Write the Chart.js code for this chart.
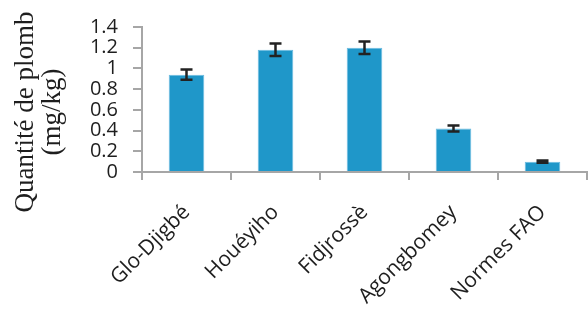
<!DOCTYPE html>
<html>
<head>
<meta charset="utf-8">
<script src="https://cdn.jsdelivr.net/npm/chart.js@4/dist/chart.umd.min.js"></script>
<style>
  html, body { margin: 0; padding: 0; background: #ffffff; }
  #wrap { width: 588px; height: 311px; }
</style>
</head>
<body>
<div id="wrap"><canvas id="plomb"></canvas></div>
<script>
// sites and measured lead content (mg/kg) with error bar half-widths
const sites = ['Glo-Djigbé', 'Houéyiho', 'Fidjrossè', 'Agongbomey', 'Normes FAO'];
const leadValues = [0.94, 1.18, 1.20, 0.42, 0.10];
const leadErrors = [0.05, 0.06, 0.06, 0.03, 0.01];
const yTitleLines = ['Quantité de plomb', '(mg/kg)'];

const axisGrey = '#a6a6a6';
const textColor = '#1e1e1e';

// draws the error bars from the dataset values through the y scale
const errorBars = {
  id: 'errorBars',
  afterDatasetsDraw(chart) {
    const ctx = chart.ctx;
    const y = chart.scales.y;
    const meta = chart.getDatasetMeta(0);
    ctx.save();
    ctx.strokeStyle = '#222222';
    ctx.lineWidth = 2.5;
    meta.data.forEach((bar, i) => {
      const top = y.getPixelForValue(leadValues[i] + leadErrors[i]);
      const bottom = y.getPixelForValue(leadValues[i] - leadErrors[i]);
      const half = 6;
      ctx.beginPath();
      ctx.moveTo(bar.x, top);
      ctx.lineTo(bar.x, bottom);
      ctx.moveTo(bar.x - half, top);
      ctx.lineTo(bar.x + half, top);
      ctx.moveTo(bar.x - half, bottom);
      ctx.lineTo(bar.x + half, bottom);
      ctx.stroke();
    });
    ctx.restore();
  }
};

// y axis title, two lines in serif, rotated
const yTitle = {
  id: 'yTitle',
  afterDraw(chart) {
    const ctx = chart.ctx;
    ctx.save();
    ctx.translate(39, 112);
    ctx.rotate(-Math.PI / 2);
    ctx.fillStyle = textColor;
    ctx.font = '27px "Liberation Serif", "DejaVu Serif", serif';
    ctx.textAlign = 'center';
    ctx.textBaseline = 'middle';
    ctx.fillText(yTitleLines[0], 0, -13);
    ctx.fillText(yTitleLines[1], 0, 14);
    ctx.restore();
  }
};

const ctx = document.getElementById('plomb');
new Chart(ctx, {
  type: 'bar',
  data: {
    labels: sites,
    datasets: [{
      data: leadValues,
      backgroundColor: '#1f97c9',
      borderColor: '#6cbbe0',
      borderWidth: 1,
      categoryPercentage: 1.0,
      barPercentage: 0.4
    }]
  },
  options: {
    responsive: true,
    maintainAspectRatio: false,
    animation: false,
    layout: {
      padding: { top: 22, right: 1, left: 0, bottom: 0 }
    },
    plugins: {
      legend: { display: false },
      tooltip: { enabled: false }
    },
    scales: {
      x: {
        afterFit: (scale) => { scale.height = 139; },
        border: { color: axisGrey, width: 2 },
        grid: {
          offset: true,
          drawOnChartArea: false,
          drawTicks: true,
          tickLength: 8,
          color: axisGrey,
          lineWidth: 2
        },
        ticks: {
          autoSkip: false,
          minRotation: 45,
          maxRotation: 45,
          padding: 20,
          color: textColor,
          font: { family: '"Open Sans", sans-serif', size: 21 }
        }
      },
      y: {
        min: 0,
        max: 1.4,
        afterFit: (scale) => { scale.width = 142; },
        border: { color: axisGrey, width: 2 },
        grid: {
          drawOnChartArea: false,
          drawTicks: true,
          tickLength: 9,
          color: axisGrey,
          lineWidth: 2
        },
        ticks: {
          autoSkip: false,
          stepSize: 0.2,
          padding: 15,
          color: textColor,
          font: { family: '"Open Sans", sans-serif', size: 20 },
          callback: (v) => String(Number(v.toFixed(1)))
        }
      }
    }
  },
  plugins: [errorBars, yTitle]
});
</script>
</body>
</html>
